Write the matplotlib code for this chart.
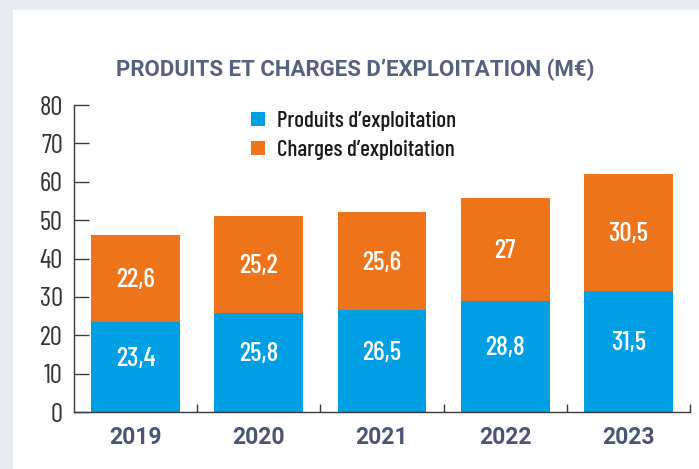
import matplotlib
matplotlib.use("Agg")
import matplotlib.pyplot as plt
from matplotlib.patches import Rectangle
from matplotlib.ticker import FixedLocator
import numpy as np

years = ["2019", "2020", "2021", "2022", "2023"]
produits = [23.4, 25.8, 26.5, 28.8, 31.5]
charges = [22.6, 25.2, 25.6, 27, 30.5]
produits_labels = ["23,4", "25,8", "26,5", "28,8", "31,5"]
charges_labels = ["22,6", "25,2", "25,6", "27", "30,5"]
yticks = [0, 10, 20, 30, 40, 50, 60, 70, 80]

BLUE = "#009fe3"
ORANGE = "#ee741c"
TITLE_C = "#56617d"
XLAB_C = "#4a5573"
AX_C = "#3a3a3a"
COND = ["Barlow Condensed", "DejaVu Sans"]
TITLEF = ["Roboto", "DejaVu Sans"]
BOLD = ["Roboto", "DejaVu Sans"]

W, H = 699, 469
fig = plt.figure(figsize=(W / 100, H / 100), dpi=100)
fig.patch.set_facecolor("#e8ebee")
fig.patches.append(Rectangle((13 / W, 0), 1 - 13 / W, 1 - 10 / H,
                             transform=fig.transFigure, facecolor="white",
                             edgecolor="none", zorder=-1))

ax = fig.add_axes([74 / W, (H - 412) / H, (690 - 74) / W, 307 / H])
ax.set_zorder(2)
ax.set_facecolor("none")
x = np.arange(len(years))
bw = 0.72
ax.bar(x, produits, bw, color=BLUE, label="Produits d’exploitation", zorder=2)
ax.bar(x, charges, bw, bottom=produits, color=ORANGE,
       label="Charges d’exploitation", zorder=2)

for i in range(len(years)):
    ax.annotate(produits_labels[i], (x[i], produits[i] / 2), xytext=(0, 6),
                textcoords="offset points", ha="center", va="center",
                color="white", fontsize=19.5, fontweight="medium", family=COND, zorder=3)
    ax.annotate(charges_labels[i], (x[i], produits[i] + charges[i] / 2),
                xytext=(0, -1), textcoords="offset points", ha="center",
                va="center", color="white", fontsize=19.5, fontweight="medium",
                family=COND, zorder=3)

ax.set_xlim(-0.5, 4.5)
ax.set_ylim(0, 80)
ax.set_yticks(yticks)
ax.set_yticklabels([str(v) for v in yticks], family=COND, fontsize=19.5,
                   fontweight="normal", color="#333333")
ax.tick_params(axis="y", direction="in", length=11, width=1, color=AX_C, pad=8)
ax.set_xticks(x)
ax.set_xticklabels(years, family=BOLD, fontweight="bold", fontsize=16.5, color=XLAB_C)
ax.tick_params(axis="x", which="major", length=0, pad=10)
ax.xaxis.set_minor_locator(FixedLocator(list(x[1:] - 0.5) + [4.5]))
ax.tick_params(axis="x", which="minor", direction="in", length=6, width=1, color=AX_C)

for s in ["top", "right"]:
    ax.spines[s].set_visible(False)
for s in ["left", "bottom"]:
    ax.spines[s].set_color(AX_C)
    ax.spines[s].set_linewidth(1)

leg = ax.legend(loc="upper left",
                bbox_to_anchor=((251 - 74) / (690 - 74), 1.0 - (111 - 105) / 307),
                frameon=False, prop={"family": COND, "size": 16.5, "weight": "medium"},
                handlelength=0.6, handleheight=0.6, handletextpad=0.55,
                labelspacing=0.4, borderaxespad=0, borderpad=0)
for t in leg.get_texts():
    t.set_color("#1a1a1a")

fig.text(355 / W, 1 - 70 / H, "PRODUITS ET CHARGES D’EXPLOITATION (M€)",
         ha="center", va="center", fontsize=16, fontweight="bold",
         family=TITLEF, color=TITLE_C)

fig.savefig("out.png", dpi=100, facecolor=fig.get_facecolor())
